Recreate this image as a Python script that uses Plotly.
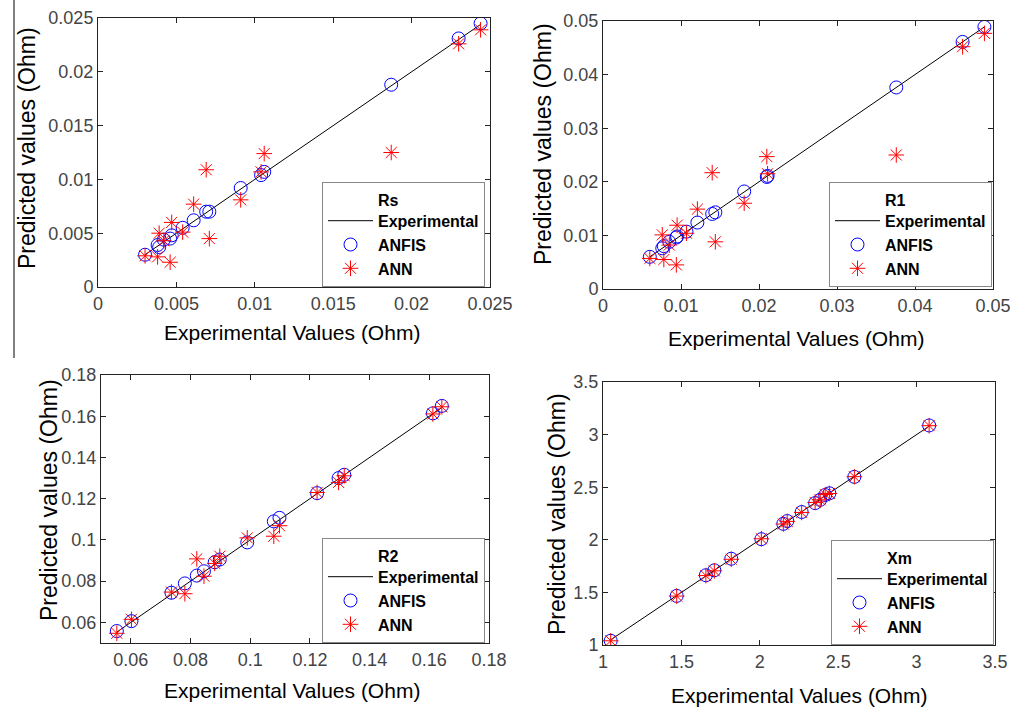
import plotly.graph_objects as go

# ---------------- data ----------------
rs_exp = [0.0030, 0.0038, 0.0039, 0.0042, 0.0046, 0.0047, 0.0054, 0.0061, 0.0069, 0.0071, 0.0091, 0.0104, 0.0106, 0.0187, 0.0230, 0.0244]
rs_anfis = [0.0030, 0.0039, 0.0037, 0.0044, 0.0045, 0.0048, 0.0055, 0.0062, 0.0070, 0.0070, 0.0092, 0.0104, 0.0107, 0.0188, 0.0231, 0.0245]
rs_ann = [0.0029, 0.0028, 0.0050, 0.0043, 0.0023, 0.0060, 0.0051, 0.0077, 0.0109, 0.0045, 0.0081, 0.0107, 0.0124, 0.0125, 0.0226, 0.0239]

r1_exp = [0.0060, 0.0076, 0.0078, 0.0085, 0.0094, 0.0095, 0.0107, 0.0121, 0.0140, 0.0144, 0.0181, 0.0210, 0.0211, 0.0376, 0.0461, 0.0489]
r1_anfis = [0.0060, 0.0076, 0.0080, 0.0088, 0.0096, 0.0098, 0.0107, 0.0124, 0.0140, 0.0143, 0.0182, 0.0209, 0.0211, 0.0376, 0.0461, 0.0489]
r1_ann = [0.0057, 0.0101, 0.0055, 0.0082, 0.0045, 0.0119, 0.0104, 0.0149, 0.0217, 0.0088, 0.0160, 0.0247, 0.0215, 0.0250, 0.0452, 0.0477]

r2_exp = [0.0553, 0.0602, 0.0736, 0.0781, 0.0821, 0.0845, 0.0881, 0.0898, 0.0990, 0.1079, 0.1098, 0.1224, 0.1296, 0.1315, 0.1612, 0.1642]
r2_anfis = [0.0558, 0.0606, 0.0744, 0.0789, 0.0827, 0.0848, 0.0892, 0.0905, 0.0988, 0.1090, 0.1107, 0.1227, 0.1300, 0.1316, 0.1614, 0.1650]
r2_ann = [0.0547, 0.0615, 0.0747, 0.0739, 0.0908, 0.0824, 0.0886, 0.0921, 0.1010, 0.1018, 0.1069, 0.1230, 0.1279, 0.1311, 0.1611, 0.1646]

xm_exp = [1.049, 1.470, 1.656, 1.710, 1.818, 2.010, 2.150, 2.175, 2.267, 2.353, 2.385, 2.417, 2.444, 2.603, 3.080]
xm_anfis = [1.040, 1.467, 1.663, 1.710, 1.820, 2.006, 2.152, 2.178, 2.264, 2.349, 2.380, 2.426, 2.442, 2.598, 3.087]
xm_ann = [1.040, 1.465, 1.660, 1.705, 1.815, 2.010, 2.150, 2.175, 2.260, 2.355, 2.380, 2.430, 2.440, 2.600, 3.085]

panel_names = ["Rs", "R1", "R2", "Xm"]
series_names = ["Experimental", "ANFIS", "ANN"]
x_title = "Experimental Values (Ohm)"
y_title = "Predicted values (Ohm)"

rs_ticks = [0, 0.005, 0.01, 0.015, 0.02, 0.025]
r1_ticks = [0, 0.01, 0.02, 0.03, 0.04, 0.05]
r2_ticks = [0.06, 0.08, 0.1, 0.12, 0.14, 0.16, 0.18]
xm_ticks = [1, 1.5, 2, 2.5, 3, 3.5]
rs_ticktext = ["0", "0.005", "0.01", "0.015", "0.02", "0.025"]
r1_ticktext = ["0", "0.01", "0.02", "0.03", "0.04", "0.05"]
r2_ticktext = ["0.06", "0.08", "0.1", "0.12", "0.14", "0.16", "0.18"]
xm_ticktext = ["1", "1.5", "2", "2.5", "3", "3.5"]

# ---------------- layout geometry (pixels of the 1011x708 frame) ----------------
W, H = 1011, 708
FONT = "Arial, 'Liberation Sans', sans-serif"

panels = [
    dict(data=(rs_exp, rs_anfis, rs_ann), rng=[0, 0.025], ticks=rs_ticks, tt=rs_ticktext,
         box=(98, 490, 18, 287), leg=(485, 287), xt=(292, 332), yt=(27, 148)),
    dict(data=(r1_exp, r1_anfis, r1_ann), rng=[0, 0.05], ticks=r1_ticks, tt=r1_ticktext,
         box=(603, 993, 21, 289), leg=(992, 287), xt=(796, 338), yt=(543, 144)),
    dict(data=(r2_exp, r2_anfis, r2_ann), rng=[0.05, 0.18], ticks=r2_ticks, tt=r2_ticktext,
         box=(101, 489, 375, 643), leg=(485, 643), xt=(292, 690), yt=(49, 500)),
    dict(data=(xm_exp, xm_anfis, xm_ann), rng=[1, 3.5], ticks=xm_ticks, tt=xm_ticktext,
         box=(603, 995, 382, 645), leg=(994, 645), xt=(799, 695), yt=(557, 514)),
]

def px(x):
    return x / W

def py(y):
    return 1 - y / H

fig = go.Figure()
layout = dict(autosize=True, margin=dict(l=0, r=0, t=0, b=0),
              plot_bgcolor="white", paper_bgcolor="white",
              font=dict(family=FONT, color="#000"), annotations=[], shapes=[])

for i, p in enumerate(panels):
    k = "" if i == 0 else str(i + 1)
    xa, ya = "x" + k, "y" + k
    lg = "legend" + k
    exp, anfis, ann = p["data"]
    line_x = [min(exp), max(exp)]
    fig.add_trace(go.Scatter(x=line_x, y=line_x, mode="lines",
                             line=dict(color="black", width=1),
                             name=panel_names[i] + "<br>" + series_names[0],
                             xaxis=xa, yaxis=ya, legend=lg))
    fig.add_trace(go.Scatter(x=exp, y=anfis, mode="markers",
                             marker=dict(symbol="circle-open", size=13,
                                         line=dict(color="#0000ff", width=1), color="#0000ff"),
                             name=series_names[1], xaxis=xa, yaxis=ya, legend=lg))
    fig.add_trace(go.Scatter(x=exp, y=ann, mode="markers",
                             marker=dict(symbol="asterisk-open", size=13,
                                         line=dict(color="#ff0000", width=1), color="#ff0000"),
                             name=series_names[2], xaxis=xa, yaxis=ya, legend=lg))
    x0, x1, y0, y1 = p["box"]
    axcommon = dict(range=p["rng"], tickvals=p["ticks"], ticktext=p["tt"],
                    showgrid=False, zeroline=False, showline=True, linecolor="#222",
                    linewidth=1, mirror="ticks", ticks="inside", ticklen=5, automargin=False,
                    tickcolor="#222", tickfont=dict(size=18, color="#444", family=FONT))
    layout["xaxis" + k] = dict(axcommon, domain=[px(x0), px(x1)], anchor=ya)
    layout["yaxis" + k] = dict(axcommon, domain=[py(y1), py(y0)], anchor=xa)
    lx, ly = p["leg"]
    layout[lg] = dict(x=px(lx), y=py(ly), xanchor="right", yanchor="bottom",
                      bgcolor="white", bordercolor="#888", borderwidth=1,
                      valign="bottom", tracegroupgap=0, itemwidth=45,
                      font=dict(size=16, family=FONT, color="#000", weight="bold"))
    tx, ty = p["xt"]
    layout["annotations"].append(dict(text=x_title, x=px(tx), y=py(ty), xref="paper", yref="paper",
                                      showarrow=False, xanchor="center", yanchor="middle",
                                      font=dict(size=21, family=FONT, color="#000")))
    tx, ty = p["yt"]
    layout["annotations"].append(dict(text=y_title, x=px(tx), y=py(ty), xref="paper", yref="paper",
                                      showarrow=False, xanchor="center", yanchor="middle", textangle=-90,
                                      font=dict(size=23, family=FONT, color="#000")))

# stray vertical rule at the left of the top-left panel
layout["shapes"].append(dict(type="line", xref="paper", yref="paper",
                             x0=px(14), x1=px(14), y0=py(0), y1=py(358),
                             line=dict(color="black", width=1)))

fig.update_layout(**layout)
fig.write_html(
    "out.html",
    default_width="100vw",
    default_height="100vh",
    config={"displayModeBar": False, "responsive": True},
    post_script=("document.documentElement.style.margin='0';"
                 "document.body.style.margin='0';"
                 "document.body.style.overflow='hidden';"
                 "document.documentElement.style.overflow='hidden';"
                 "Plotly.Plots.resize(document.getElementById('{plot_id}'));"),
)
